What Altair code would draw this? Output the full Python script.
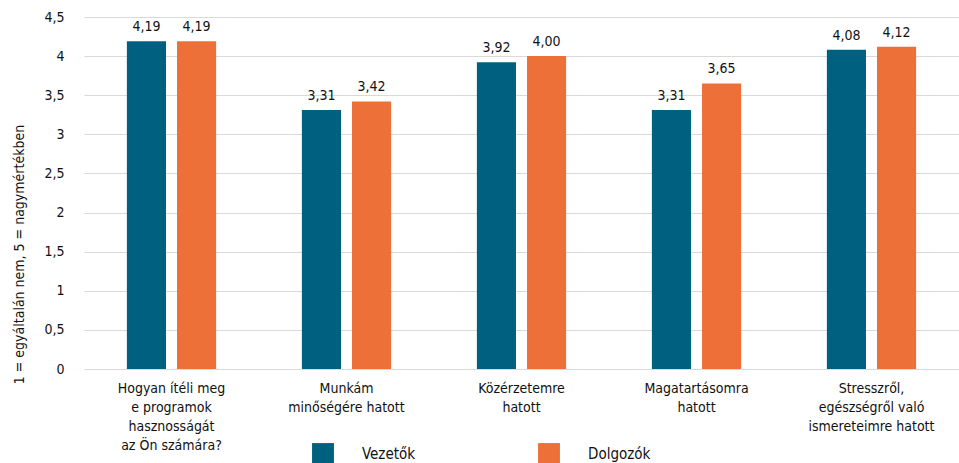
import altair as alt
import pandas as pd

categories = [
    "Hogyan ítéli meg|e programok|hasznosságát|az Ön számára?",
    "Munkám|minőségére hatott",
    "Közérzetemre|hatott",
    "Magatartásomra|hatott",
    "Stresszről,|egészségről való|ismereteimre hatott",
]
series = ["Vezetők", "Dolgozók"]
vezetok = [4.19, 3.31, 3.92, 3.31, 4.08]
dolgozok = [4.19, 3.42, 4.00, 3.65, 4.12]
y_ticks = [0, 0.5, 1, 1.5, 2, 2.5, 3, 3.5, 4, 4.5]
colors = ["#00607F", "#EE7039"]

rows = []
for i, cat in enumerate(categories):
    rows.append({"cat": cat, "group": series[0], "value": vezetok[i]})
    rows.append({"cat": cat, "group": series[1], "value": dolgozok[i]})
df = pd.DataFrame(rows)

FONT = "'Liberation Sans Narrow', 'DejaVu Sans Condensed', 'Noto Sans', sans-serif"

x_enc = alt.X(
    "cat:N",
    sort=categories,
    scale=alt.Scale(paddingInner=0.49, paddingOuter=0.245),
    axis=alt.Axis(
        title=None,
        labelAngle=0,
        labelExpr="split(datum.label, '|')",
        labelFont=FONT,
        labelFontSize=14,
        labelColor="#111111",
        labelLineHeight=19,
        labelPadding=12,
        labelBaseline="top",
        domain=False,
        ticks=False,
        labelLimit=300,
    ),
)
xoff = alt.XOffset("group:N", sort=series, scale=alt.Scale(paddingInner=0.22))

y_enc = alt.Y(
    "value:Q",
    scale=alt.Scale(domain=[0, 4.5], nice=False, zero=True),
    axis=alt.Axis(
        values=y_ticks,
        labelExpr="replace(format(datum.value, '~g'), '.', ',')",
        labelOverlap=False,
        title="1 = egyáltalán nem, 5 = nagymértékben",
        titleFont=FONT,
        titleFontSize=14,
        titleFontWeight="normal",
        titleColor="#111111",
        titleX=-58,
        titleY=237,
        titleAngle=-90,
        titleAlign="center",
        titleBaseline="bottom",
        labelFont=FONT,
        labelFontSize=14,
        labelColor="#111111",
        labelPadding=20,
        domain=False,
        ticks=False,
        grid=True,
        gridColor="#D9D9D9",
        gridWidth=1,
    ),
)

bars = alt.Chart(df).mark_bar().encode(
    x=x_enc,
    xOffset=xoff,
    y=y_enc,
    color=alt.Color(
        "group:N",
        sort=series,
        scale=alt.Scale(domain=series, range=colors),
        legend=alt.Legend(
            title=None,
            orient="none",
            legendX=228,
            legendY=426,
            direction="horizontal",
            columns=2,
            symbolType="square",
            symbolSize=480,
            symbolStrokeWidth=0,
            symbolOpacity=1,
            labelFont=FONT,
            labelFontSize=15,
            labelColor="#111111",
            labelOffset=28,
            columnPadding=122,
        ),
    ),
)

labels = alt.Chart(df).mark_text(
    baseline="bottom", dy=-7, font=FONT, fontSize=14, color="#111111"
).encode(
    x=x_enc,
    xOffset=xoff,
    y=y_enc,
    text=alt.Text("lbl:N"),
).transform_calculate(lbl="replace(format(datum.value, '.2f'), '.', ',')")

chart = (
    alt.layer(bars, labels)
    .properties(
        width=875,
        height=352,
        autosize=alt.AutoSizeParams(type="none"),
        padding={"left": 84, "top": 17, "right": 0, "bottom": 94},
        background="white",
    )
    .configure_view(stroke=None)
)

chart.save("out.html", embed_options={"renderer": "svg", "actions": False})
